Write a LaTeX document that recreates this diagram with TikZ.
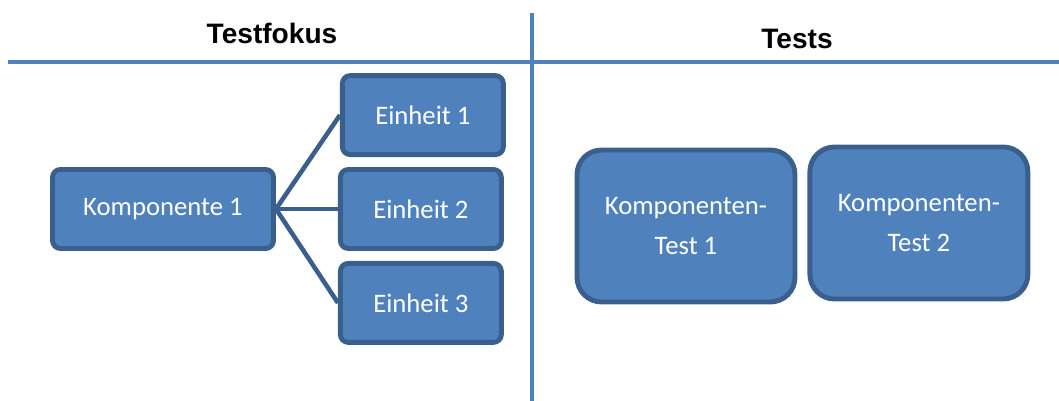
\documentclass[tikz,border=0pt]{standalone}
\usepackage{fontspec}
\setmainfont{Carlito}
\newfontfamily\headfont{Liberation Sans}
\usetikzlibrary{positioning}
\definecolor{boxfill}{HTML}{4F81BD}
\definecolor{boxline}{HTML}{3A5F8C}

\begin{document}
\begin{tikzpicture}[x=0.02cm, y=-0.02cm,
			head/.style = {font=\headfont\bfseries\fontsize{16}{19}\selectfont},
			rec/.style  = {draw=boxline, fill=boxfill, line width=2.8pt, rounded corners=4.5pt, text=white, align=center, font=\fontsize{15.2}{22.8}\selectfont, minimum height=1.58cm},
			unit/.style = {rec, minimum width=3.22cm},
			comp/.style = {rec, minimum width=4.42cm},
			test/.style = {rec, rounded corners=14pt, minimum width=4.36cm, minimum height=3.04cm},
			link/.style = {draw=boxline, line width=2.6pt},
			rule/.style = {draw=boxfill, line width=2.8pt}]
			
			\useasboundingbox (0,0) rectangle (1059,401);
			
			% headings and the dividing lines
			\node[head] (fokus) at (272,33) {Testfokus};
			\node[head] (tests) at (797,39) {Tests};
			\draw[rule] (8,62) -- (1059,62);
			\draw[rule] (532,13) -- (532,401);
			
			% left side, component and its units
			\node[comp] (k1) at (163,209) {Komponente 1};
			\node[unit, right=1.24cm of k1] (e2) {Einheit 2};
			\node[unit, above=0.2cm of e2, xshift=0.04cm] (e1) {Einheit 1};
			\node[unit, below=0.2cm of e2] (e3) {Einheit 3};
			
			\foreach \value in {1,...,3}
			\draw[link] (k1.east) -- (e\value.west);
			
			% right side, the tests
			\node[test] (t1) at (686,226) {Komponenten-\\Test 1};
			\node[test, right=0.2cm of t1, yshift=0.06cm] (t2) {Komponenten-\\Test 2};
		\end{tikzpicture}
\end{document}
